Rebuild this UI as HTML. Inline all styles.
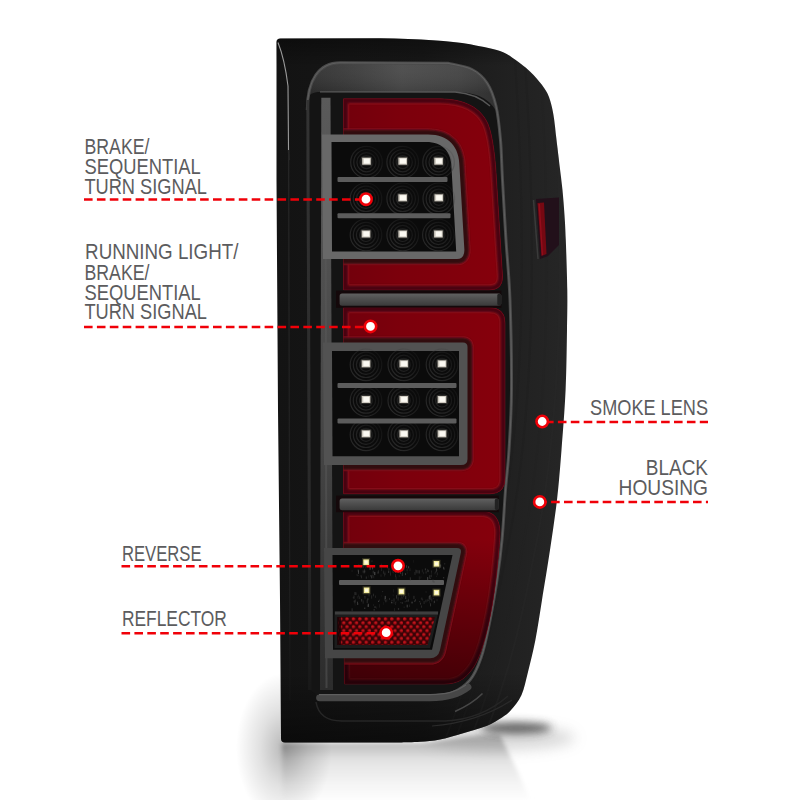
<!DOCTYPE html>
<html><head><meta charset="utf-8"><style>
html,body{margin:0;padding:0;background:#fff;width:800px;height:800px;overflow:hidden}
svg{display:block}
text{font-family:"Liberation Sans",sans-serif;font-size:22px;fill:#5c5c5e}
</style></head><body>
<svg width="800" height="800" viewBox="0 0 800 800">
<defs>
  <filter id="blur8" filterUnits="userSpaceOnUse" x="0" y="0" width="800" height="800"><feGaussianBlur stdDeviation="7"/></filter>
  <filter id="blur4" filterUnits="userSpaceOnUse" x="0" y="0" width="800" height="800"><feGaussianBlur stdDeviation="4"/></filter>
  <filter id="blur2" filterUnits="userSpaceOnUse" x="0" y="0" width="800" height="800"><feGaussianBlur stdDeviation="2.2"/></filter>
  <filter id="blur1" x="-20%" y="-20%" width="140%" height="140%"><feGaussianBlur stdDeviation="0.8"/></filter>
  <linearGradient id="house" x1="276" y1="0" x2="568" y2="0" gradientUnits="userSpaceOnUse">
    <stop offset="0" stop-color="#131313"/>
    <stop offset="0.5" stop-color="#171717"/>
    <stop offset="0.78" stop-color="#202020"/>
    <stop offset="1" stop-color="#262626"/>
  </linearGradient>
  <linearGradient id="slab" x1="308" y1="0" x2="495" y2="0" gradientUnits="userSpaceOnUse">
    <stop offset="0" stop-color="#303030"/>
    <stop offset="0.25" stop-color="#3c3c3c"/>
    <stop offset="0.5" stop-color="#4a4a4a"/>
    <stop offset="0.8" stop-color="#444"/>
    <stop offset="1" stop-color="#383838"/>
  </linearGradient>
  <linearGradient id="slabv" x1="0" y1="62" x2="0" y2="93" gradientUnits="userSpaceOnUse">
    <stop offset="0" stop-color="#fff" stop-opacity="0.04"/>
    <stop offset="1" stop-color="#000" stop-opacity="0.12"/>
  </linearGradient>
  <linearGradient id="redH" x1="343" y1="0" x2="505" y2="0" gradientUnits="userSpaceOnUse">
    <stop offset="0" stop-color="#72000c"/>
    <stop offset="0.35" stop-color="#7c000c"/>
    <stop offset="1" stop-color="#86000c"/>
  </linearGradient>
  <linearGradient id="refl" x1="0" y1="742" x2="0" y2="800" gradientUnits="userSpaceOnUse">
    <stop offset="0" stop-color="#b8b8b8"/>
    <stop offset="0.3" stop-color="#e2e2e2"/>
    <stop offset="0.7" stop-color="#f4f4f4"/>
    <stop offset="1" stop-color="#fdfdfd"/>
  </linearGradient>
  <pattern id="hex" x="339" y="617" width="6.4" height="7.8" patternUnits="userSpaceOnUse">
    <rect width="6.4" height="7.8" fill="#380306"/>
    <ellipse cx="1.6" cy="1.95" rx="1.9" ry="1.6" fill="#a80c14"/>
    <ellipse cx="4.8" cy="5.85" rx="1.9" ry="1.6" fill="#a80c14"/>
    <ellipse cx="1.6" cy="1.6" rx="1" ry="0.8" fill="#c81820"/>
    <ellipse cx="4.8" cy="5.5" rx="1" ry="0.8" fill="#c81820"/>
  </pattern>
  <linearGradient id="barg" x1="0" y1="98" x2="0" y2="690" gradientUnits="userSpaceOnUse">
    <stop offset="0" stop-color="#5a5a5a"/>
    <stop offset="0.6" stop-color="#444"/>
    <stop offset="1" stop-color="#2c2c2c"/>
  </linearGradient>
  <linearGradient id="botdark" x1="0" y1="540" x2="0" y2="690" gradientUnits="userSpaceOnUse">
    <stop offset="0" stop-color="#000" stop-opacity="0"/>
    <stop offset="1" stop-color="#000" stop-opacity="0.5"/>
  </linearGradient>
  <linearGradient id="ringgrad" x1="0" y1="1" x2="1" y2="0">
    <stop offset="0.1" stop-color="#fff"/>
    <stop offset="0.5" stop-color="#888"/>
    <stop offset="0.9" stop-color="#111"/>
  </linearGradient>
  <mask id="ringmask" maskContentUnits="objectBoundingBox" x="-0.2" y="-0.2" width="1.4" height="1.4"><rect x="-0.2" y="-0.2" width="1.4" height="1.4" fill="url(#ringgrad)"/></mask>
  <linearGradient id="housebot" x1="0" y1="38" x2="0" y2="743" gradientUnits="userSpaceOnUse">
    <stop offset="0" stop-color="#000" stop-opacity="0.35"/>
    <stop offset="0.04" stop-color="#000" stop-opacity="0"/>
    <stop offset="0.9" stop-color="#000" stop-opacity="0"/>
    <stop offset="1" stop-color="#000" stop-opacity="0.45"/>
  </linearGradient>
  <radialGradient id="leftsh">
    <stop offset="0" stop-color="#000" stop-opacity="0.28"/>
    <stop offset="0.5" stop-color="#000" stop-opacity="0.12"/>
    <stop offset="1" stop-color="#000" stop-opacity="0"/>
  </radialGradient>
  <linearGradient id="linefade" x1="0" y1="150" x2="0" y2="700" gradientUnits="userSpaceOnUse">
    <stop offset="0" stop-color="#262626"/>
    <stop offset="0.8" stop-color="#1e1e1e"/>
    <stop offset="1" stop-color="#141414"/>
  </linearGradient>
  <linearGradient id="linefade2" x1="0" y1="100" x2="0" y2="690" gradientUnits="userSpaceOnUse">
    <stop offset="0" stop-color="#333"/>
    <stop offset="0.75" stop-color="#282828"/>
    <stop offset="1" stop-color="#181818"/>
  </linearGradient>
  <clipPath id="clipRight"><rect x="336" y="0" width="300" height="800"/></clipPath>
  <clipPath id="clipHouse"><path id="hp" d="M 276.5,42 Q 276.5,38.5 280.5,38.5 L 380,38.3 C 420,39 450,41 470,44.2 C 475.00,45.33 492.50,48.45 500.00,51.00 C 507.50,53.55 510.00,56.08 515.00,59.50 C 520.00,62.92 525.50,67.25 530.00,71.50 C 534.50,75.75 538.83,80.75 542.00,85.00 C 545.17,89.25 547.08,92.00 549.00,97.00 C 550.92,102.00 552.25,107.83 553.50,115.00 C 554.75,122.17 555.50,131.67 556.50,140.00 C 557.50,148.33 558.50,156.67 559.50,165.00 C 560.50,173.33 561.67,181.67 562.50,190.00 C 563.33,198.33 563.95,206.67 564.50,215.00 C 565.05,223.33 565.33,227.50 565.80,240.00 C 566.27,252.50 567.10,275.00 567.30,290.00 C 567.50,305.00 567.28,313.33 567.00,330.00 C 566.72,346.67 566.52,370.00 565.60,390.00 C 564.68,410.00 562.93,431.67 561.50,450.00 C 560.07,468.33 558.92,483.33 557.00,500.00 C 555.08,516.67 552.50,533.33 550.00,550.00 C 547.50,566.67 544.43,585.00 542.00,600.00 C 539.57,615.00 537.73,628.00 535.40,640.00 C 533.07,652.00 530.32,662.83 528.00,672.00 C 525.68,681.17 524.33,688.67 521.50,695.00 C 518.67,701.33 514.25,706.25 511.00,710.00 C 507.75,713.75 506.08,714.83 502.00,717.50 C 497.92,720.17 492.83,723.42 486.50,726.00 C 480.17,728.58 471.75,730.75 464.00,733.00 C 456.25,735.25 447.33,738.03 440.00,739.50 C 432.67,740.97 426.67,741.30 420.00,741.80 C 413.33,742.30 403.33,742.38 400.00,742.50 L 285,742.5 Q 281,742.5 281,738.5 L 280,600 L 278,410 L 276.5,180 Z"/></clipPath>
</defs>
<path d="M 282,743 L 420,742.5 C 450,741 480,732 500,735 C 512,760 522,780 530,800 L 282,800 Z" fill="url(#refl)" filter="url(#blur2)"/>
<ellipse cx="284" cy="748" rx="48" ry="75" fill="url(#leftsh)"/>
<ellipse cx="500" cy="738" rx="75" ry="12" fill="#909090" opacity="0.35" filter="url(#blur8)"/>
<ellipse cx="516" cy="728" rx="36" ry="5.5" fill="#3a3a3a" opacity="0.8" filter="url(#blur4)"/>
<path d="M 276.5,42 Q 276.5,38.5 280.5,38.5 L 380,38.3 C 420,39 450,41 470,44.2 C 475.00,45.33 492.50,48.45 500.00,51.00 C 507.50,53.55 510.00,56.08 515.00,59.50 C 520.00,62.92 525.50,67.25 530.00,71.50 C 534.50,75.75 538.83,80.75 542.00,85.00 C 545.17,89.25 547.08,92.00 549.00,97.00 C 550.92,102.00 552.25,107.83 553.50,115.00 C 554.75,122.17 555.50,131.67 556.50,140.00 C 557.50,148.33 558.50,156.67 559.50,165.00 C 560.50,173.33 561.67,181.67 562.50,190.00 C 563.33,198.33 563.95,206.67 564.50,215.00 C 565.05,223.33 565.33,227.50 565.80,240.00 C 566.27,252.50 567.10,275.00 567.30,290.00 C 567.50,305.00 567.28,313.33 567.00,330.00 C 566.72,346.67 566.52,370.00 565.60,390.00 C 564.68,410.00 562.93,431.67 561.50,450.00 C 560.07,468.33 558.92,483.33 557.00,500.00 C 555.08,516.67 552.50,533.33 550.00,550.00 C 547.50,566.67 544.43,585.00 542.00,600.00 C 539.57,615.00 537.73,628.00 535.40,640.00 C 533.07,652.00 530.32,662.83 528.00,672.00 C 525.68,681.17 524.33,688.67 521.50,695.00 C 518.67,701.33 514.25,706.25 511.00,710.00 C 507.75,713.75 506.08,714.83 502.00,717.50 C 497.92,720.17 492.83,723.42 486.50,726.00 C 480.17,728.58 471.75,730.75 464.00,733.00 C 456.25,735.25 447.33,738.03 440.00,739.50 C 432.67,740.97 426.67,741.30 420.00,741.80 C 413.33,742.30 403.33,742.38 400.00,742.50 L 285,742.5 Q 281,742.5 281,738.5 L 280,600 L 278,410 L 276.5,180 Z" fill="url(#house)"/>
<path d="M 276.5,42 Q 276.5,38.5 280.5,38.5 L 380,38.3 C 420,39 450,41 470,44.2 C 475.00,45.33 492.50,48.45 500.00,51.00 C 507.50,53.55 510.00,56.08 515.00,59.50 C 520.00,62.92 525.50,67.25 530.00,71.50 C 534.50,75.75 538.83,80.75 542.00,85.00 C 545.17,89.25 547.08,92.00 549.00,97.00 C 550.92,102.00 552.25,107.83 553.50,115.00 C 554.75,122.17 555.50,131.67 556.50,140.00 C 557.50,148.33 558.50,156.67 559.50,165.00 C 560.50,173.33 561.67,181.67 562.50,190.00 C 563.33,198.33 563.95,206.67 564.50,215.00 C 565.05,223.33 565.33,227.50 565.80,240.00 C 566.27,252.50 567.10,275.00 567.30,290.00 C 567.50,305.00 567.28,313.33 567.00,330.00 C 566.72,346.67 566.52,370.00 565.60,390.00 C 564.68,410.00 562.93,431.67 561.50,450.00 C 560.07,468.33 558.92,483.33 557.00,500.00 C 555.08,516.67 552.50,533.33 550.00,550.00 C 547.50,566.67 544.43,585.00 542.00,600.00 C 539.57,615.00 537.73,628.00 535.40,640.00 C 533.07,652.00 530.32,662.83 528.00,672.00 C 525.68,681.17 524.33,688.67 521.50,695.00 C 518.67,701.33 514.25,706.25 511.00,710.00 C 507.75,713.75 506.08,714.83 502.00,717.50 C 497.92,720.17 492.83,723.42 486.50,726.00 C 480.17,728.58 471.75,730.75 464.00,733.00 C 456.25,735.25 447.33,738.03 440.00,739.50 C 432.67,740.97 426.67,741.30 420.00,741.80 C 413.33,742.30 403.33,742.38 400.00,742.50 L 285,742.5 Q 281,742.5 281,738.5 L 280,600 L 278,410 L 276.5,180 Z" fill="url(#housebot)"/>
<g clip-path="url(#clipHouse)" fill="none">
<path d="M 515,60 C 527,250 525,420 495,560 C 480,640 465,690 445,740" stroke="#1e1e1e" stroke-width="2" opacity="0.35"/>
<path d="M 525,60 C 537,250 535,420 505,560 C 490,640 475,690 455,740" stroke="#1c1c1c" stroke-width="2" opacity="0.35"/>
<path d="M 540,60 C 552,250 550,420 520,560 C 505,640 490,690 470,740" stroke="#222" stroke-width="2" opacity="0.35"/>
<path d="M 553,60 C 565,250 563,420 533,560 C 518,640 503,690 483,740" stroke="#2a2a2a" stroke-width="2" opacity="0.3"/>
</g>
<path d="M 278,42.5 C 281,50 285,62 288,86 L 288.6,160" fill="none" stroke="#9a9a9a" stroke-width="1.1"/>
<path d="M 288.6,150 L 290,700" fill="none" stroke="url(#linefade)" stroke-width="1.2"/>
<path d="M 307.5,150 L 309.5,690" fill="none" stroke="#1e1e1e" stroke-width="2"/>
<path d="M 309.5,690 L 307.3,110 C 307.3,80 319,62.8 340,62.8 L 448,63.3 C 452.00,64.33 465.50,66.22 472.00,69.50 C 478.50,72.78 483.00,76.92 487.00,83.00 C 491.00,89.08 493.75,96.50 496.00,106.00 C 498.25,115.50 499.42,127.67 500.50,140.00 C 501.58,152.33 501.58,163.33 502.50,180.00 C 503.42,196.67 504.75,220.00 506.00,240.00 C 507.25,260.00 509.08,275.00 510.00,300.00 C 510.92,325.00 511.67,365.00 511.50,390.00 C 511.33,415.00 510.00,433.33 509.00,450.00 C 508.00,466.67 506.67,475.00 505.50,490.00 C 504.33,505.00 503.42,525.00 502.00,540.00 C 500.58,555.00 499.25,565.33 497.00,580.00 C 494.75,594.67 491.17,615.00 488.50,628.00 C 485.83,641.00 484.08,649.33 481.00,658.00 C 477.92,666.67 474.83,674.17 470.00,680.00 C 465.17,685.83 458.67,690.08 452.00,693.00 C 445.33,695.92 433.67,696.75 430.00,697.50 L 320,697.5 Q 315.5,697.5 315.5,694 L 310,690 Z" fill="#141414"/>
<path d="M 309,96 C 310,76 321,64 340,63.5 L 448,64 C 468,64.5 481,71 488,84 C 492,92 494,100 495.5,110 C 490,100 478,92 455,92 L 320,92 C 314,92 310,94 309,96 Z" fill="url(#slab)"/>
<path d="M 309,96 C 310,76 321,64 340,63.5 L 448,64 C 468,64.5 481,71 488,84 C 492,92 494,100 495.5,110 C 490,100 478,92 455,92 L 320,92 C 314,92 310,94 309,96 Z" fill="url(#slabv)"/>
<path d="M 307.3,110 C 307.3,80 319,62.8 340,62.8 L 448,63.3 C 452.00,64.33 465.50,66.22 472.00,69.50 C 478.50,72.78 483.00,76.92 487.00,83.00 C 491.00,89.08 493.75,96.50 496.00,106.00 C 498.25,115.50 499.42,127.67 500.50,140.00 C 501.58,152.33 501.58,163.33 502.50,180.00 C 503.42,196.67 504.75,220.00 506.00,240.00 C 507.25,260.00 509.08,275.00 510.00,300.00 C 510.92,325.00 511.67,365.00 511.50,390.00 C 511.33,415.00 510.00,433.33 509.00,450.00 C 508.00,466.67 506.67,475.00 505.50,490.00 C 504.33,505.00 503.42,525.00 502.00,540.00 C 500.58,555.00 499.25,565.33 497.00,580.00 C 494.75,594.67 491.17,615.00 488.50,628.00 C 485.83,641.00 484.08,649.33 481.00,658.00 C 477.92,666.67 474.83,674.17 470.00,680.00 C 465.17,685.83 458.67,690.08 452.00,693.00 C 445.33,695.92 433.67,696.75 430.00,697.50 L 320,697.5" fill="none" stroke="#4a4a4a" stroke-width="3"/>
<path d="M 307.3,110 C 307.3,80 319,62.8 340,62.8 L 448,63.3 C 452.00,64.33 465.50,66.22 472.00,69.50 C 478.50,72.78 483.00,76.92 487.00,83.00 C 491.00,89.08 493.75,96.50 496.00,106.00 C 498.25,115.50 499.42,127.67 500.50,140.00 C 501.58,152.33 501.58,163.33 502.50,180.00 C 503.42,196.67 504.75,220.00 506.00,240.00 C 507.25,260.00 509.08,275.00 510.00,300.00 C 510.92,325.00 511.67,365.00 511.50,390.00 C 511.33,415.00 510.00,433.33 509.00,450.00 C 508.00,466.67 506.67,475.00 505.50,490.00 C 504.33,505.00 503.42,525.00 502.00,540.00 C 500.58,555.00 499.25,565.33 497.00,580.00 C 494.75,594.67 491.17,615.00 488.50,628.00 C 485.83,641.00 484.08,649.33 481.00,658.00 C 477.92,666.67 474.83,674.17 470.00,680.00 C 465.17,685.83 458.67,690.08 452.00,693.00 C 445.33,695.92 433.67,696.75 430.00,697.50 L 320,697.5" fill="none" stroke="#6a6a6a" stroke-width="1" opacity="0.7"/>
<path d="M 307.8,100 L 310,690" stroke="url(#linefade2)" stroke-width="3"/>
<path d="M 319.5,697.8 L 430,697.8 C 446,697.6 458,695 468,687" fill="none" stroke="#474747" stroke-width="6.8" stroke-linecap="round"/>
<path d="M 319,694.6 L 430,694.6 C 446,694.4 456,692 466,685" fill="none" stroke="#5e5e5e" stroke-width="1.2"/>
<path d="M 395,63 L 432,63" stroke="#d0d0d0" stroke-width="1.4" opacity="0.7" filter="url(#blur1)"/>
<path d="M 320,91.8 L 455,92 C 470,93 480,97 490,106" fill="none" stroke="#575757" stroke-width="1.3"/>
<path d="M 321.3,97.8 L 330.5,97.8 L 333,690 L 320,690 Z" fill="url(#barg)"/>
<path d="M 325.5,98 L 326.5,688" stroke="#5a5a5a" stroke-width="2" opacity="0.5"/>
<clipPath id="rc0"><path d="M 343.5,98.8 L 440,98.8 C 465,99 481,108 488,124 C 493,136 495.5,160 496.5,180 L 502.5,276 Q 503,290 489,290 L 343.5,290 Z"/></clipPath>
<path d="M 343.5,98.8 L 440,98.8 C 465,99 481,108 488,124 C 493,136 495.5,160 496.5,180 L 502.5,276 Q 503,290 489,290 L 343.5,290 Z" fill="url(#redH)"/>
<g clip-path="url(#rc0)"><path d="M 343.5,98.8 L 440,98.8 C 465,99 481,108 488,124 C 493,136 495.5,160 496.5,180 L 502.5,276 Q 503,290 489,290 L 343.5,290 Z" fill="none" stroke="#a81828" stroke-width="11.5" opacity="0.75"/><path d="M 343.5,98.8 L 440,98.8 C 465,99 481,108 488,124 C 493,136 495.5,160 496.5,180 L 502.5,276 Q 503,290 489,290 L 343.5,290 Z" fill="none" stroke="#3a0008" stroke-width="9" opacity="0.85" filter="url(#blur1)"/></g>
<path d="M 343.5,98.8 L 440,98.8 C 465,99 481,108 488,124 C 493,136 495.5,160 496.5,180 L 502.5,276 Q 503,290 489,290 L 343.5,290 Z" fill="none" stroke="#7a1020" stroke-width="1" opacity="0.5"/>
<clipPath id="rc1"><path d="M 343.5,307.5 L 489,307.5 Q 505,307.5 505,323 L 505,478 Q 505,493.8 490,493.8 L 343.5,493.8 Z"/></clipPath>
<path d="M 343.5,307.5 L 489,307.5 Q 505,307.5 505,323 L 505,478 Q 505,493.8 490,493.8 L 343.5,493.8 Z" fill="url(#redH)"/>
<g clip-path="url(#rc1)"><path d="M 343.5,307.5 L 489,307.5 Q 505,307.5 505,323 L 505,478 Q 505,493.8 490,493.8 L 343.5,493.8 Z" fill="none" stroke="#a81828" stroke-width="11.5" opacity="0.75"/><path d="M 343.5,307.5 L 489,307.5 Q 505,307.5 505,323 L 505,478 Q 505,493.8 490,493.8 L 343.5,493.8 Z" fill="none" stroke="#3a0008" stroke-width="9" opacity="0.85" filter="url(#blur1)"/></g>
<path d="M 343.5,307.5 L 489,307.5 Q 505,307.5 505,323 L 505,478 Q 505,493.8 490,493.8 L 343.5,493.8 Z" fill="none" stroke="#7a1020" stroke-width="1" opacity="0.5"/>
<clipPath id="rc2"><path d="M 343.5,511.3 L 482,511.3 C 494,511.3 500,519 500,533 C 499.5,545 498,560 496.5,575 C 493,605 489,625 483.7,643 C 480,655 477,662 473,668 C 465,679 458,684 444,684 L 344.5,684 Z"/></clipPath>
<path d="M 343.5,511.3 L 482,511.3 C 494,511.3 500,519 500,533 C 499.5,545 498,560 496.5,575 C 493,605 489,625 483.7,643 C 480,655 477,662 473,668 C 465,679 458,684 444,684 L 344.5,684 Z" fill="url(#redH)"/>
<g clip-path="url(#rc2)"><path d="M 343.5,511.3 L 482,511.3 C 494,511.3 500,519 500,533 C 499.5,545 498,560 496.5,575 C 493,605 489,625 483.7,643 C 480,655 477,662 473,668 C 465,679 458,684 444,684 L 344.5,684 Z" fill="none" stroke="#a81828" stroke-width="11.5" opacity="0.75"/><path d="M 343.5,511.3 L 482,511.3 C 494,511.3 500,519 500,533 C 499.5,545 498,560 496.5,575 C 493,605 489,625 483.7,643 C 480,655 477,662 473,668 C 465,679 458,684 444,684 L 344.5,684 Z" fill="none" stroke="#3a0008" stroke-width="9" opacity="0.85" filter="url(#blur1)"/></g>
<path d="M 343.5,511.3 L 482,511.3 C 494,511.3 500,519 500,533 C 499.5,545 498,560 496.5,575 C 493,605 489,625 483.7,643 C 480,655 477,662 473,668 C 465,679 458,684 444,684 L 344.5,684 Z" fill="none" stroke="#7a1020" stroke-width="1" opacity="0.5"/>
<path d="M 343.5,511.3 L 482,511.3 C 494,511.3 500,519 500,533 C 499.5,545 498,560 496.5,575 C 493,605 489,625 483.7,643 C 480,655 477,662 473,668 C 465,679 458,684 444,684 L 344.5,684 Z" fill="url(#botdark)"/>
<g clip-path="url(#rc0)"><path d="M 322,134.5 L 428,134.5 C 449,134.5 459.5,147 459.5,167 L 464.4,250 Q 464.4,259 457,259 L 323,259 Z" fill="none" stroke="#a81828" stroke-width="12.5" opacity="0.75"/><path d="M 322,134.5 L 428,134.5 C 449,134.5 459.5,147 459.5,167 L 464.4,250 Q 464.4,259 457,259 L 323,259 Z" fill="none" stroke="#260810" stroke-width="10" opacity="0.9" filter="url(#blur1)"/></g>
<path d="M 322,134.5 L 428,134.5 C 449,134.5 459.5,147 459.5,167 L 464.4,250 Q 464.4,259 457,259 L 323,259 Z" fill="#686868"/>
<path d="M 331.5,142 L 426,142 C 443,142 451.5,152 451.5,168 L 456.2,251.5 L 332,251.5 Z" fill="#0b0b0b"/>
<g clip-path="url(#rc1)"><path d="M 323,342.5 L 463,342.5 Q 467.5,342.5 467.5,347 L 467.5,459 Q 467.5,465 461,465 L 324,465 Z" fill="none" stroke="#a81828" stroke-width="12.5" opacity="0.75"/><path d="M 323,342.5 L 463,342.5 Q 467.5,342.5 467.5,347 L 467.5,459 Q 467.5,465 461,465 L 324,465 Z" fill="none" stroke="#260810" stroke-width="10" opacity="0.9" filter="url(#blur1)"/></g>
<path d="M 323,342.5 L 463,342.5 Q 467.5,342.5 467.5,347 L 467.5,459 Q 467.5,465 461,465 L 324,465 Z" fill="#525252"/>
<path d="M 332,351 L 459,351 L 459,456.3 L 332.5,456.3 Z" fill="#0b0b0b"/>
<g clip-path="url(#rc2)"><path d="M 324,548 L 457,548 Q 461.5,548 461,552 L 440,650 Q 438,658.3 430,658.3 L 325,658.3 Z" fill="none" stroke="#a81828" stroke-width="12.5" opacity="0.75"/><path d="M 324,548 L 457,548 Q 461.5,548 461,552 L 440,650 Q 438,658.3 430,658.3 L 325,658.3 Z" fill="none" stroke="#260810" stroke-width="10" opacity="0.9" filter="url(#blur1)"/></g>
<path d="M 324,548 L 457,548 Q 461.5,548 461,552 L 440,650 Q 438,658.3 430,658.3 L 325,658.3 Z" fill="#464646"/>
<path d="M 332.5,555 L 452.5,555 L 432,649.7 L 333,649.7 Z" fill="#0b0b0b"/>
<g fill="none" stroke="#383838" stroke-width="1.2" opacity="0.8" mask="url(#ringmask)"><circle cx="366.5" cy="162.2" r="6.5"/><circle cx="366.5" cy="162.2" r="9.6"/><circle cx="366.5" cy="162.2" r="12.7"/><circle cx="366.5" cy="162.2" r="15.8"/></g>
<g fill="none" stroke="#383838" stroke-width="1.2" opacity="0.8" mask="url(#ringmask)"><circle cx="402.7" cy="162.2" r="6.5"/><circle cx="402.7" cy="162.2" r="9.6"/><circle cx="402.7" cy="162.2" r="12.7"/><circle cx="402.7" cy="162.2" r="15.8"/></g>
<g fill="none" stroke="#383838" stroke-width="1.2" opacity="0.8" mask="url(#ringmask)"><circle cx="438.6" cy="162.2" r="6.5"/><circle cx="438.6" cy="162.2" r="9.6"/><circle cx="438.6" cy="162.2" r="12.7"/><circle cx="438.6" cy="162.2" r="15.8"/></g>
<g fill="none" stroke="#383838" stroke-width="1.2" opacity="0.8" mask="url(#ringmask)"><circle cx="366" cy="198.8" r="6.5"/><circle cx="366" cy="198.8" r="9.6"/><circle cx="366" cy="198.8" r="12.7"/><circle cx="366" cy="198.8" r="15.8"/></g>
<g fill="none" stroke="#383838" stroke-width="1.2" opacity="0.8" mask="url(#ringmask)"><circle cx="402.7" cy="198.8" r="6.5"/><circle cx="402.7" cy="198.8" r="9.6"/><circle cx="402.7" cy="198.8" r="12.7"/><circle cx="402.7" cy="198.8" r="15.8"/></g>
<g fill="none" stroke="#383838" stroke-width="1.2" opacity="0.8" mask="url(#ringmask)"><circle cx="438.8" cy="198.8" r="6.5"/><circle cx="438.8" cy="198.8" r="9.6"/><circle cx="438.8" cy="198.8" r="12.7"/><circle cx="438.8" cy="198.8" r="15.8"/></g>
<g fill="none" stroke="#383838" stroke-width="1.2" opacity="0.8" mask="url(#ringmask)"><circle cx="366" cy="235" r="6.5"/><circle cx="366" cy="235" r="9.6"/><circle cx="366" cy="235" r="12.7"/><circle cx="366" cy="235" r="15.8"/></g>
<g fill="none" stroke="#383838" stroke-width="1.2" opacity="0.8" mask="url(#ringmask)"><circle cx="402.7" cy="235" r="6.5"/><circle cx="402.7" cy="235" r="9.6"/><circle cx="402.7" cy="235" r="12.7"/><circle cx="402.7" cy="235" r="15.8"/></g>
<g fill="none" stroke="#383838" stroke-width="1.2" opacity="0.8" mask="url(#ringmask)"><circle cx="438.4" cy="235" r="6.5"/><circle cx="438.4" cy="235" r="9.6"/><circle cx="438.4" cy="235" r="12.7"/><circle cx="438.4" cy="235" r="15.8"/></g>
<g fill="none" stroke="#383838" stroke-width="1.2" opacity="0.8" mask="url(#ringmask)"><circle cx="366" cy="364.8" r="6.5"/><circle cx="366" cy="364.8" r="9.6"/><circle cx="366" cy="364.8" r="12.7"/><circle cx="366" cy="364.8" r="15.8"/></g>
<g fill="none" stroke="#383838" stroke-width="1.2" opacity="0.8" mask="url(#ringmask)"><circle cx="403.8" cy="364.8" r="6.5"/><circle cx="403.8" cy="364.8" r="9.6"/><circle cx="403.8" cy="364.8" r="12.7"/><circle cx="403.8" cy="364.8" r="15.8"/></g>
<g fill="none" stroke="#383838" stroke-width="1.2" opacity="0.8" mask="url(#ringmask)"><circle cx="442" cy="364.8" r="6.5"/><circle cx="442" cy="364.8" r="9.6"/><circle cx="442" cy="364.8" r="12.7"/><circle cx="442" cy="364.8" r="15.8"/></g>
<g fill="none" stroke="#383838" stroke-width="1.2" opacity="0.8" mask="url(#ringmask)"><circle cx="366" cy="400.5" r="6.5"/><circle cx="366" cy="400.5" r="9.6"/><circle cx="366" cy="400.5" r="12.7"/><circle cx="366" cy="400.5" r="15.8"/></g>
<g fill="none" stroke="#383838" stroke-width="1.2" opacity="0.8" mask="url(#ringmask)"><circle cx="403.8" cy="400.5" r="6.5"/><circle cx="403.8" cy="400.5" r="9.6"/><circle cx="403.8" cy="400.5" r="12.7"/><circle cx="403.8" cy="400.5" r="15.8"/></g>
<g fill="none" stroke="#383838" stroke-width="1.2" opacity="0.8" mask="url(#ringmask)"><circle cx="442" cy="400.5" r="6.5"/><circle cx="442" cy="400.5" r="9.6"/><circle cx="442" cy="400.5" r="12.7"/><circle cx="442" cy="400.5" r="15.8"/></g>
<g fill="none" stroke="#383838" stroke-width="1.2" opacity="0.8" mask="url(#ringmask)"><circle cx="366" cy="434.8" r="6.5"/><circle cx="366" cy="434.8" r="9.6"/><circle cx="366" cy="434.8" r="12.7"/><circle cx="366" cy="434.8" r="15.8"/></g>
<g fill="none" stroke="#383838" stroke-width="1.2" opacity="0.8" mask="url(#ringmask)"><circle cx="403.8" cy="434.8" r="6.5"/><circle cx="403.8" cy="434.8" r="9.6"/><circle cx="403.8" cy="434.8" r="12.7"/><circle cx="403.8" cy="434.8" r="15.8"/></g>
<g fill="none" stroke="#383838" stroke-width="1.2" opacity="0.8" mask="url(#ringmask)"><circle cx="442" cy="434.8" r="6.5"/><circle cx="442" cy="434.8" r="9.6"/><circle cx="442" cy="434.8" r="12.7"/><circle cx="442" cy="434.8" r="15.8"/></g>
<g fill="#5c5c5c">
<rect x="337.5" y="177" width="110" height="5" rx="1"/>
<rect x="337.5" y="213.3" width="113" height="5" rx="1"/>
<rect x="337.5" y="383" width="119" height="5" rx="1"/>
<rect x="337.5" y="418.5" width="119" height="5" rx="1"/>
<rect x="339" y="580" width="105" height="5" rx="1"/>
</g>
<rect x="361.2" y="156.7" width="10.6" height="9.0" fill="#5a5854" opacity="0.45"/><rect x="362.2" y="157.7" width="8.6" height="7.0" fill="#cfcac0"/><rect x="363.8" y="158.6" width="6.0" height="5.0" fill="#fbf9f2"/>
<rect x="397.4" y="156.7" width="10.6" height="9.0" fill="#5a5854" opacity="0.45"/><rect x="398.4" y="157.7" width="8.6" height="7.0" fill="#cfcac0"/><rect x="400.0" y="158.6" width="6.0" height="5.0" fill="#fbf9f2"/>
<rect x="433.3" y="156.7" width="10.6" height="9.0" fill="#5a5854" opacity="0.45"/><rect x="434.3" y="157.7" width="8.6" height="7.0" fill="#cfcac0"/><rect x="435.9" y="158.6" width="6.0" height="5.0" fill="#fbf9f2"/>
<rect x="360.7" y="193.3" width="10.6" height="9.0" fill="#5a5854" opacity="0.45"/><rect x="361.7" y="194.3" width="8.6" height="7.0" fill="#cfcac0"/><rect x="363.3" y="195.2" width="6.0" height="5.0" fill="#fbf9f2"/>
<rect x="397.4" y="193.3" width="10.6" height="9.0" fill="#5a5854" opacity="0.45"/><rect x="398.4" y="194.3" width="8.6" height="7.0" fill="#cfcac0"/><rect x="400.0" y="195.2" width="6.0" height="5.0" fill="#fbf9f2"/>
<rect x="433.5" y="193.3" width="10.6" height="9.0" fill="#5a5854" opacity="0.45"/><rect x="434.5" y="194.3" width="8.6" height="7.0" fill="#cfcac0"/><rect x="436.1" y="195.2" width="6.0" height="5.0" fill="#fbf9f2"/>
<rect x="360.7" y="229.5" width="10.6" height="9.0" fill="#5a5854" opacity="0.45"/><rect x="361.7" y="230.5" width="8.6" height="7.0" fill="#cfcac0"/><rect x="363.3" y="231.4" width="6.0" height="5.0" fill="#fbf9f2"/>
<rect x="397.4" y="229.5" width="10.6" height="9.0" fill="#5a5854" opacity="0.45"/><rect x="398.4" y="230.5" width="8.6" height="7.0" fill="#cfcac0"/><rect x="400.0" y="231.4" width="6.0" height="5.0" fill="#fbf9f2"/>
<rect x="433.1" y="229.5" width="10.6" height="9.0" fill="#5a5854" opacity="0.45"/><rect x="434.1" y="230.5" width="8.6" height="7.0" fill="#cfcac0"/><rect x="435.7" y="231.4" width="6.0" height="5.0" fill="#fbf9f2"/>
<rect x="360.7" y="359.3" width="10.6" height="9.0" fill="#5a5854" opacity="0.45"/><rect x="361.7" y="360.3" width="8.6" height="7.0" fill="#cfcac0"/><rect x="363.3" y="361.2" width="6.0" height="5.0" fill="#fbf9f2"/>
<rect x="398.5" y="359.3" width="10.6" height="9.0" fill="#5a5854" opacity="0.45"/><rect x="399.5" y="360.3" width="8.6" height="7.0" fill="#cfcac0"/><rect x="401.1" y="361.2" width="6.0" height="5.0" fill="#fbf9f2"/>
<rect x="436.7" y="359.3" width="10.6" height="9.0" fill="#5a5854" opacity="0.45"/><rect x="437.7" y="360.3" width="8.6" height="7.0" fill="#cfcac0"/><rect x="439.3" y="361.2" width="6.0" height="5.0" fill="#fbf9f2"/>
<rect x="360.7" y="395.0" width="10.6" height="9.0" fill="#5a5854" opacity="0.45"/><rect x="361.7" y="396.0" width="8.6" height="7.0" fill="#cfcac0"/><rect x="363.3" y="396.9" width="6.0" height="5.0" fill="#fbf9f2"/>
<rect x="398.5" y="395.0" width="10.6" height="9.0" fill="#5a5854" opacity="0.45"/><rect x="399.5" y="396.0" width="8.6" height="7.0" fill="#cfcac0"/><rect x="401.1" y="396.9" width="6.0" height="5.0" fill="#fbf9f2"/>
<rect x="436.7" y="395.0" width="10.6" height="9.0" fill="#5a5854" opacity="0.45"/><rect x="437.7" y="396.0" width="8.6" height="7.0" fill="#cfcac0"/><rect x="439.3" y="396.9" width="6.0" height="5.0" fill="#fbf9f2"/>
<rect x="360.7" y="429.3" width="10.6" height="9.0" fill="#5a5854" opacity="0.45"/><rect x="361.7" y="430.3" width="8.6" height="7.0" fill="#cfcac0"/><rect x="363.3" y="431.2" width="6.0" height="5.0" fill="#fbf9f2"/>
<rect x="398.5" y="429.3" width="10.6" height="9.0" fill="#5a5854" opacity="0.45"/><rect x="399.5" y="430.3" width="8.6" height="7.0" fill="#cfcac0"/><rect x="401.1" y="431.2" width="6.0" height="5.0" fill="#fbf9f2"/>
<rect x="436.7" y="429.3" width="10.6" height="9.0" fill="#5a5854" opacity="0.45"/><rect x="437.7" y="430.3" width="8.6" height="7.0" fill="#cfcac0"/><rect x="439.3" y="431.2" width="6.0" height="5.0" fill="#fbf9f2"/>
<g><rect x="380.7" y="574.4" width="0.6" height="2.3" fill="rgb(63,63,63)" opacity="0.69"/><rect x="436.2" y="575.7" width="0.7" height="1.2" fill="rgb(66,66,66)" opacity="0.43"/><rect x="358.6" y="564.3" width="0.6" height="1.6" fill="rgb(80,80,80)" opacity="0.69"/><rect x="355.9" y="574.4" width="0.9" height="1.1" fill="rgb(54,54,54)" opacity="0.42"/><rect x="431.4" y="570.5" width="0.6" height="1.8" fill="rgb(83,83,83)" opacity="0.49"/><rect x="405.1" y="573.2" width="0.9" height="1.9" fill="rgb(75,75,75)" opacity="0.76"/><rect x="403.5" y="567.6" width="0.9" height="2.9" fill="rgb(69,69,69)" opacity="0.69"/><rect x="393.0" y="567.8" width="0.7" height="3.0" fill="rgb(84,84,84)" opacity="0.79"/><rect x="357.8" y="569.5" width="0.7" height="2.1" fill="rgb(78,78,78)" opacity="0.89"/><rect x="361.2" y="575.4" width="0.8" height="2.9" fill="rgb(49,49,49)" opacity="0.87"/><rect x="390.0" y="572.6" width="0.9" height="3.0" fill="rgb(60,60,60)" opacity="0.57"/><rect x="383.2" y="570.6" width="0.8" height="3.0" fill="rgb(44,44,44)" opacity="0.82"/><rect x="439.6" y="565.2" width="0.5" height="2.8" fill="rgb(81,81,81)" opacity="0.69"/><rect x="414.6" y="572.0" width="0.8" height="2.8" fill="rgb(82,82,82)" opacity="0.57"/><rect x="439.2" y="567.6" width="0.8" height="1.5" fill="rgb(58,58,58)" opacity="0.46"/><rect x="373.5" y="575.3" width="0.8" height="3.2" fill="rgb(45,45,45)" opacity="0.48"/><rect x="388.1" y="570.6" width="0.8" height="2.4" fill="rgb(85,85,85)" opacity="0.61"/><rect x="384.0" y="573.1" width="1.1" height="3.4" fill="rgb(49,49,49)" opacity="0.44"/><rect x="364.3" y="570.7" width="1.1" height="1.5" fill="rgb(58,58,58)" opacity="0.40"/><rect x="389.7" y="570.5" width="0.8" height="2.4" fill="rgb(48,48,48)" opacity="0.75"/><rect x="398.9" y="566.6" width="0.5" height="3.2" fill="rgb(83,83,83)" opacity="0.80"/><rect x="387.2" y="567.0" width="0.8" height="1.3" fill="rgb(80,80,80)" opacity="0.60"/><rect x="368.1" y="575.3" width="0.6" height="2.5" fill="rgb(46,46,46)" opacity="0.40"/><rect x="364.3" y="570.6" width="0.6" height="1.9" fill="rgb(41,41,41)" opacity="0.44"/><rect x="369.7" y="567.0" width="1.2" height="2.5" fill="rgb(70,70,70)" opacity="0.46"/><rect x="430.5" y="575.0" width="1.2" height="2.2" fill="rgb(70,70,70)" opacity="0.56"/><rect x="363.7" y="571.0" width="0.8" height="2.7" fill="rgb(73,73,73)" opacity="0.41"/><rect x="440.2" y="564.4" width="0.9" height="1.4" fill="rgb(74,74,74)" opacity="0.86"/><rect x="421.9" y="569.3" width="0.6" height="3.1" fill="rgb(73,73,73)" opacity="0.58"/><rect x="365.8" y="576.5" width="1.0" height="2.3" fill="rgb(72,72,72)" opacity="0.56"/><rect x="371.1" y="575.4" width="1.1" height="3.0" fill="rgb(65,65,65)" opacity="0.77"/><rect x="371.5" y="560.3" width="0.9" height="1.9" fill="rgb(41,41,41)" opacity="0.89"/><rect x="424.9" y="568.4" width="0.9" height="1.9" fill="rgb(62,62,62)" opacity="0.88"/><rect x="384.6" y="571.5" width="0.7" height="1.6" fill="rgb(52,52,52)" opacity="0.57"/><rect x="395.8" y="576.5" width="0.5" height="3.3" fill="rgb(62,62,62)" opacity="0.80"/><rect x="358.0" y="570.5" width="1.0" height="3.3" fill="rgb(85,85,85)" opacity="0.78"/><rect x="395.3" y="574.1" width="0.7" height="3.0" fill="rgb(65,65,65)" opacity="0.63"/><rect x="420.5" y="577.4" width="0.6" height="1.4" fill="rgb(48,48,48)" opacity="0.41"/><rect x="406.0" y="565.3" width="0.9" height="2.5" fill="rgb(70,70,70)" opacity="0.73"/><rect x="383.2" y="572.3" width="0.9" height="1.3" fill="rgb(40,40,40)" opacity="0.80"/><rect x="418.9" y="576.3" width="0.6" height="3.5" fill="rgb(52,52,52)" opacity="0.81"/><rect x="370.0" y="575.0" width="0.7" height="1.7" fill="rgb(55,55,55)" opacity="0.78"/><rect x="380.9" y="563.7" width="0.5" height="2.8" fill="rgb(69,69,69)" opacity="0.73"/><rect x="427.3" y="568.9" width="0.9" height="3.1" fill="rgb(72,72,72)" opacity="0.47"/><rect x="364.4" y="562.9" width="1.0" height="2.5" fill="rgb(49,49,49)" opacity="0.49"/><rect x="394.9" y="570.5" width="1.0" height="2.4" fill="rgb(60,60,60)" opacity="0.74"/><rect x="400.3" y="564.1" width="1.1" height="1.1" fill="rgb(52,52,52)" opacity="0.54"/><rect x="423.2" y="571.8" width="0.9" height="2.4" fill="rgb(44,44,44)" opacity="0.62"/><rect x="408.1" y="566.2" width="1.0" height="2.1" fill="rgb(74,74,74)" opacity="0.80"/><rect x="398.1" y="570.8" width="0.7" height="2.3" fill="rgb(56,56,56)" opacity="0.86"/><rect x="434.6" y="572.3" width="0.8" height="2.0" fill="rgb(60,60,60)" opacity="0.44"/><rect x="372.8" y="575.2" width="0.6" height="2.7" fill="rgb(47,47,47)" opacity="0.85"/><rect x="364.6" y="569.8" width="0.6" height="3.2" fill="rgb(69,69,69)" opacity="0.51"/><rect x="440.3" y="565.3" width="0.8" height="2.2" fill="rgb(82,82,82)" opacity="0.82"/><rect x="365.3" y="566.6" width="0.7" height="1.5" fill="rgb(60,60,60)" opacity="0.45"/><rect x="384.7" y="573.0" width="0.7" height="2.1" fill="rgb(85,85,85)" opacity="0.41"/><rect x="381.4" y="567.6" width="0.5" height="3.5" fill="rgb(54,54,54)" opacity="0.89"/><rect x="359.9" y="567.6" width="0.7" height="1.1" fill="rgb(51,51,51)" opacity="0.54"/><rect x="362.3" y="563.2" width="1.1" height="1.6" fill="rgb(49,49,49)" opacity="0.67"/><rect x="398.8" y="575.1" width="0.8" height="1.8" fill="rgb(57,57,57)" opacity="0.43"/><rect x="415.2" y="569.6" width="1.2" height="2.6" fill="rgb(56,56,56)" opacity="0.44"/><rect x="431.2" y="571.7" width="0.5" height="3.2" fill="rgb(69,69,69)" opacity="0.41"/><rect x="444.3" y="563.3" width="0.9" height="1.1" fill="rgb(85,85,85)" opacity="0.52"/><rect x="360.4" y="575.4" width="0.6" height="1.1" fill="rgb(52,52,52)" opacity="0.87"/><rect x="409.6" y="568.3" width="0.8" height="2.7" fill="rgb(57,57,57)" opacity="0.57"/><rect x="351.7" y="570.5" width="0.7" height="1.0" fill="rgb(72,72,72)" opacity="0.68"/><rect x="368.0" y="561.8" width="0.6" height="3.0" fill="rgb(67,67,67)" opacity="0.73"/><rect x="401.8" y="572.5" width="1.1" height="3.4" fill="rgb(59,59,59)" opacity="0.74"/><rect x="443.1" y="566.8" width="1.0" height="2.6" fill="rgb(65,65,65)" opacity="0.89"/><rect x="443.1" y="577.3" width="1.1" height="1.0" fill="rgb(80,80,80)" opacity="0.77"/><rect x="374.2" y="571.9" width="1.1" height="3.2" fill="rgb(82,82,82)" opacity="0.89"/><rect x="406.8" y="572.4" width="1.0" height="1.1" fill="rgb(51,51,51)" opacity="0.48"/><rect x="392.3" y="570.2" width="1.2" height="2.4" fill="rgb(55,55,55)" opacity="0.42"/><rect x="433.7" y="581.2" width="0.7" height="1.5" fill="rgb(61,61,61)" opacity="0.59"/><rect x="395.0" y="568.3" width="0.9" height="1.0" fill="rgb(56,56,56)" opacity="0.81"/><rect x="363.6" y="571.0" width="0.9" height="2.0" fill="rgb(59,59,59)" opacity="0.55"/><rect x="372.1" y="566.8" width="1.0" height="2.6" fill="rgb(85,85,85)" opacity="0.79"/><rect x="406.6" y="568.5" width="1.0" height="2.8" fill="rgb(71,71,71)" opacity="0.47"/><rect x="418.6" y="570.3" width="1.1" height="3.2" fill="rgb(80,80,80)" opacity="0.61"/><rect x="416.5" y="570.1" width="0.9" height="3.3" fill="rgb(72,72,72)" opacity="0.68"/><rect x="427.1" y="577.1" width="1.1" height="2.8" fill="rgb(84,84,84)" opacity="0.72"/><rect x="358.1" y="571.6" width="0.5" height="2.6" fill="rgb(46,46,46)" opacity="0.59"/><rect x="392.8" y="571.7" width="0.9" height="1.6" fill="rgb(56,56,56)" opacity="0.40"/><rect x="425.6" y="571.2" width="1.0" height="2.3" fill="rgb(74,74,74)" opacity="0.45"/><rect x="399.9" y="570.9" width="1.1" height="3.1" fill="rgb(55,55,55)" opacity="0.76"/><rect x="369.5" y="566.5" width="1.0" height="3.4" fill="rgb(71,71,71)" opacity="0.82"/><rect x="357.3" y="573.8" width="0.5" height="2.6" fill="rgb(52,52,52)" opacity="0.44"/><rect x="364.0" y="569.2" width="0.7" height="2.9" fill="rgb(59,59,59)" opacity="0.71"/><rect x="362.7" y="566.4" width="1.2" height="1.2" fill="rgb(53,53,53)" opacity="0.74"/><rect x="377.6" y="571.5" width="0.9" height="2.2" fill="rgb(69,69,69)" opacity="0.78"/><rect x="444.2" y="567.7" width="0.6" height="2.2" fill="rgb(58,58,58)" opacity="0.63"/><rect x="427.7" y="570.0" width="1.2" height="2.1" fill="rgb(57,57,57)" opacity="0.59"/><rect x="436.9" y="572.4" width="0.6" height="2.9" fill="rgb(56,56,56)" opacity="0.88"/><rect x="362.6" y="570.3" width="1.1" height="2.3" fill="rgb(47,47,47)" opacity="0.75"/><rect x="371.9" y="574.7" width="0.5" height="1.0" fill="rgb(71,71,71)" opacity="0.74"/><rect x="388.4" y="568.2" width="1.0" height="2.0" fill="rgb(64,64,64)" opacity="0.56"/><rect x="429.7" y="577.7" width="1.1" height="1.3" fill="rgb(52,52,52)" opacity="0.76"/><rect x="435.5" y="571.1" width="0.7" height="1.9" fill="rgb(65,65,65)" opacity="0.60"/><rect x="432.5" y="579.1" width="1.0" height="3.1" fill="rgb(57,57,57)" opacity="0.45"/><rect x="429.1" y="575.2" width="0.7" height="3.3" fill="rgb(55,55,55)" opacity="0.89"/><rect x="391.4" y="568.2" width="1.0" height="2.1" fill="rgb(41,41,41)" opacity="0.81"/><rect x="409.8" y="577.3" width="1.1" height="3.4" fill="rgb(75,75,75)" opacity="0.50"/><rect x="357.6" y="574.8" width="0.9" height="1.3" fill="rgb(58,58,58)" opacity="0.64"/><rect x="436.4" y="569.3" width="0.9" height="1.4" fill="rgb(66,66,66)" opacity="0.57"/><rect x="378.2" y="570.2" width="0.7" height="2.6" fill="rgb(59,59,59)" opacity="0.64"/><rect x="413.4" y="560.1" width="0.6" height="2.6" fill="rgb(44,44,44)" opacity="0.50"/><rect x="435.9" y="568.2" width="1.1" height="3.5" fill="rgb(68,68,68)" opacity="0.61"/><rect x="401.9" y="571.1" width="0.7" height="1.4" fill="rgb(75,75,75)" opacity="0.45"/><rect x="372.7" y="570.7" width="1.1" height="2.9" fill="rgb(66,66,66)" opacity="0.59"/><rect x="420.7" y="576.2" width="0.6" height="1.7" fill="rgb(43,43,43)" opacity="0.65"/><rect x="401.2" y="595.1" width="0.9" height="3.0" fill="rgb(53,53,53)" opacity="0.45"/><rect x="430.0" y="603.7" width="0.8" height="2.6" fill="rgb(67,67,67)" opacity="0.88"/><rect x="425.7" y="599.6" width="0.5" height="2.8" fill="rgb(70,70,70)" opacity="0.88"/><rect x="393.7" y="598.4" width="0.6" height="3.3" fill="rgb(73,73,73)" opacity="0.83"/><rect x="436.7" y="599.0" width="0.6" height="2.3" fill="rgb(83,83,83)" opacity="0.45"/><rect x="423.6" y="600.9" width="1.0" height="3.1" fill="rgb(69,69,69)" opacity="0.44"/><rect x="419.3" y="601.1" width="0.9" height="1.1" fill="rgb(85,85,85)" opacity="0.55"/><rect x="361.4" y="599.0" width="0.7" height="2.6" fill="rgb(84,84,84)" opacity="0.78"/><rect x="358.9" y="596.0" width="0.6" height="1.7" fill="rgb(78,78,78)" opacity="0.40"/><rect x="397.9" y="608.1" width="1.2" height="1.7" fill="rgb(60,60,60)" opacity="0.72"/><rect x="428.8" y="596.1" width="0.7" height="3.4" fill="rgb(85,85,85)" opacity="0.72"/><rect x="354.9" y="599.5" width="0.6" height="3.2" fill="rgb(81,81,81)" opacity="0.61"/><rect x="372.9" y="594.5" width="0.7" height="1.1" fill="rgb(61,61,61)" opacity="0.76"/><rect x="382.3" y="591.1" width="0.8" height="1.0" fill="rgb(58,58,58)" opacity="0.77"/><rect x="395.0" y="601.9" width="0.7" height="3.1" fill="rgb(54,54,54)" opacity="0.63"/><rect x="373.6" y="609.2" width="1.1" height="1.3" fill="rgb(79,79,79)" opacity="0.65"/><rect x="366.7" y="599.7" width="1.0" height="3.4" fill="rgb(49,49,49)" opacity="0.86"/><rect x="354.8" y="603.1" width="0.5" height="2.5" fill="rgb(66,66,66)" opacity="0.43"/><rect x="355.4" y="592.3" width="1.1" height="2.8" fill="rgb(45,45,45)" opacity="0.87"/><rect x="379.4" y="604.3" width="0.6" height="3.3" fill="rgb(69,69,69)" opacity="0.42"/><rect x="409.3" y="596.2" width="0.7" height="1.4" fill="rgb(40,40,40)" opacity="0.44"/><rect x="357.2" y="601.7" width="0.8" height="3.2" fill="rgb(75,75,75)" opacity="0.88"/><rect x="368.5" y="594.4" width="1.1" height="2.1" fill="rgb(43,43,43)" opacity="0.75"/><rect x="367.5" y="604.8" width="0.9" height="2.1" fill="rgb(60,60,60)" opacity="0.58"/><rect x="430.0" y="603.0" width="1.1" height="2.9" fill="rgb(42,42,42)" opacity="0.59"/><rect x="391.4" y="599.8" width="1.1" height="1.2" fill="rgb(52,52,52)" opacity="0.77"/><rect x="430.2" y="597.3" width="1.2" height="2.5" fill="rgb(56,56,56)" opacity="0.77"/><rect x="411.5" y="601.7" width="1.1" height="1.7" fill="rgb(78,78,78)" opacity="0.86"/><rect x="406.6" y="599.8" width="0.7" height="2.2" fill="rgb(69,69,69)" opacity="0.88"/><rect x="384.5" y="598.7" width="0.7" height="2.1" fill="rgb(71,71,71)" opacity="0.47"/><rect x="394.3" y="608.2" width="0.7" height="2.7" fill="rgb(49,49,49)" opacity="0.70"/><rect x="379.2" y="599.5" width="0.7" height="1.9" fill="rgb(78,78,78)" opacity="0.44"/><rect x="367.6" y="599.1" width="0.5" height="1.1" fill="rgb(75,75,75)" opacity="0.67"/><rect x="364.3" y="596.0" width="0.8" height="1.3" fill="rgb(44,44,44)" opacity="0.53"/><rect x="357.5" y="602.9" width="1.0" height="2.1" fill="rgb(54,54,54)" opacity="0.47"/><rect x="391.1" y="601.7" width="1.1" height="1.6" fill="rgb(74,74,74)" opacity="0.82"/><rect x="409.3" y="604.6" width="0.7" height="2.4" fill="rgb(63,63,63)" opacity="0.53"/><rect x="373.2" y="604.3" width="0.8" height="1.5" fill="rgb(55,55,55)" opacity="0.48"/><rect x="428.9" y="595.9" width="0.8" height="3.5" fill="rgb(72,72,72)" opacity="0.66"/><rect x="407.9" y="597.3" width="0.6" height="2.2" fill="rgb(42,42,42)" opacity="0.45"/><rect x="392.3" y="602.2" width="1.1" height="1.1" fill="rgb(58,58,58)" opacity="0.52"/><rect x="354.5" y="592.0" width="0.9" height="3.1" fill="rgb(52,52,52)" opacity="0.87"/><rect x="383.2" y="601.9" width="0.7" height="2.9" fill="rgb(40,40,40)" opacity="0.45"/><rect x="403.2" y="595.7" width="0.9" height="1.5" fill="rgb(63,63,63)" opacity="0.57"/><rect x="353.9" y="600.1" width="1.0" height="3.3" fill="rgb(40,40,40)" opacity="0.81"/><rect x="386.5" y="599.0" width="0.8" height="2.6" fill="rgb(44,44,44)" opacity="0.50"/><rect x="420.9" y="597.6" width="0.6" height="2.0" fill="rgb(75,75,75)" opacity="0.48"/><rect x="397.6" y="598.6" width="1.0" height="2.0" fill="rgb(57,57,57)" opacity="0.60"/><rect x="375.3" y="595.5" width="0.7" height="2.4" fill="rgb(62,62,62)" opacity="0.61"/><rect x="351.6" y="608.3" width="1.0" height="3.0" fill="rgb(81,81,81)" opacity="0.50"/><rect x="414.9" y="599.1" width="1.1" height="2.1" fill="rgb(45,45,45)" opacity="0.60"/><rect x="428.7" y="599.4" width="0.8" height="1.4" fill="rgb(40,40,40)" opacity="0.43"/><rect x="362.7" y="600.4" width="0.9" height="3.3" fill="rgb(72,72,72)" opacity="0.49"/><rect x="381.0" y="595.2" width="0.6" height="1.4" fill="rgb(44,44,44)" opacity="0.45"/><rect x="393.8" y="602.5" width="0.6" height="1.3" fill="rgb(42,42,42)" opacity="0.89"/><rect x="393.1" y="589.2" width="0.5" height="3.3" fill="rgb(64,64,64)" opacity="0.44"/><rect x="413.5" y="595.8" width="0.9" height="3.1" fill="rgb(79,79,79)" opacity="0.60"/><rect x="425.5" y="591.2" width="1.1" height="1.5" fill="rgb(53,53,53)" opacity="0.42"/><rect x="433.7" y="601.1" width="0.6" height="3.4" fill="rgb(52,52,52)" opacity="0.42"/><rect x="400.2" y="602.1" width="1.0" height="1.1" fill="rgb(60,60,60)" opacity="0.46"/><rect x="403.5" y="593.7" width="0.7" height="2.1" fill="rgb(77,77,77)" opacity="0.52"/><rect x="384.7" y="597.3" width="0.8" height="2.3" fill="rgb(51,51,51)" opacity="0.41"/><rect x="405.2" y="596.1" width="1.0" height="2.9" fill="rgb(69,69,69)" opacity="0.82"/><rect x="422.3" y="599.2" width="0.8" height="1.2" fill="rgb(62,62,62)" opacity="0.62"/><rect x="358.2" y="594.5" width="0.5" height="2.6" fill="rgb(45,45,45)" opacity="0.86"/><rect x="378.0" y="600.7" width="1.0" height="1.2" fill="rgb(72,72,72)" opacity="0.85"/><rect x="408.2" y="599.2" width="0.5" height="2.5" fill="rgb(84,84,84)" opacity="0.81"/><rect x="367.3" y="598.1" width="1.2" height="2.2" fill="rgb(50,50,50)" opacity="0.74"/><rect x="414.3" y="600.4" width="0.9" height="1.6" fill="rgb(60,60,60)" opacity="0.85"/><rect x="374.5" y="606.4" width="1.1" height="1.4" fill="rgb(72,72,72)" opacity="0.88"/><rect x="392.8" y="594.4" width="0.7" height="1.9" fill="rgb(52,52,52)" opacity="0.49"/><rect x="364.4" y="596.0" width="1.2" height="2.7" fill="rgb(64,64,64)" opacity="0.48"/><rect x="420.0" y="602.7" width="0.9" height="1.9" fill="rgb(68,68,68)" opacity="0.68"/><rect x="401.7" y="602.3" width="1.1" height="1.3" fill="rgb(74,74,74)" opacity="0.71"/><rect x="385.2" y="599.9" width="1.2" height="2.4" fill="rgb(63,63,63)" opacity="0.57"/><rect x="357.3" y="596.0" width="0.7" height="2.5" fill="rgb(43,43,43)" opacity="0.55"/><rect x="396.0" y="595.2" width="1.1" height="3.3" fill="rgb(60,60,60)" opacity="0.77"/><rect x="416.6" y="608.7" width="0.7" height="1.7" fill="rgb(80,80,80)" opacity="0.62"/><rect x="395.7" y="600.7" width="0.7" height="2.6" fill="rgb(41,41,41)" opacity="0.43"/><rect x="400.6" y="597.7" width="0.7" height="2.3" fill="rgb(74,74,74)" opacity="0.51"/><rect x="402.1" y="596.7" width="0.9" height="2.2" fill="rgb(48,48,48)" opacity="0.41"/><rect x="421.5" y="597.6" width="1.0" height="2.1" fill="rgb(44,44,44)" opacity="0.72"/><rect x="427.7" y="599.8" width="0.7" height="1.0" fill="rgb(81,81,81)" opacity="0.81"/><rect x="429.6" y="595.0" width="0.9" height="2.4" fill="rgb(78,78,78)" opacity="0.87"/><rect x="415.4" y="599.1" width="0.5" height="2.3" fill="rgb(65,65,65)" opacity="0.49"/><rect x="364.2" y="607.6" width="1.1" height="1.3" fill="rgb(79,79,79)" opacity="0.68"/><rect x="433.9" y="600.7" width="0.9" height="2.3" fill="rgb(81,81,81)" opacity="0.61"/><rect x="404.7" y="601.1" width="0.9" height="1.2" fill="rgb(80,80,80)" opacity="0.42"/><rect x="429.3" y="600.3" width="0.5" height="3.1" fill="rgb(69,69,69)" opacity="0.44"/><rect x="408.5" y="592.8" width="0.6" height="3.5" fill="rgb(56,56,56)" opacity="0.52"/><rect x="353.5" y="595.6" width="1.0" height="3.1" fill="rgb(85,85,85)" opacity="0.43"/><rect x="406.7" y="604.7" width="1.0" height="2.7" fill="rgb(73,73,73)" opacity="0.89"/><rect x="376.4" y="606.6" width="0.6" height="2.3" fill="rgb(50,50,50)" opacity="0.53"/><rect x="371.1" y="595.3" width="1.0" height="3.4" fill="rgb(60,60,60)" opacity="0.50"/><rect x="384.7" y="595.9" width="1.1" height="3.3" fill="rgb(82,82,82)" opacity="0.82"/><rect x="397.8" y="596.7" width="0.8" height="2.3" fill="rgb(40,40,40)" opacity="0.83"/><rect x="389.0" y="598.2" width="0.7" height="1.5" fill="rgb(79,79,79)" opacity="0.69"/><rect x="400.4" y="593.9" width="0.6" height="1.1" fill="rgb(47,47,47)" opacity="0.45"/><rect x="432.9" y="597.8" width="0.5" height="1.1" fill="rgb(84,84,84)" opacity="0.72"/><rect x="353.8" y="600.8" width="0.5" height="1.1" fill="rgb(77,77,77)" opacity="0.78"/><rect x="367.8" y="603.7" width="1.0" height="3.2" fill="rgb(85,85,85)" opacity="0.87"/><rect x="359.6" y="597.6" width="0.6" height="1.3" fill="rgb(42,42,42)" opacity="0.87"/><rect x="431.3" y="599.0" width="1.0" height="2.6" fill="rgb(70,70,70)" opacity="0.45"/><rect x="358.7" y="597.3" width="1.0" height="1.5" fill="rgb(60,60,60)" opacity="0.57"/><rect x="373.3" y="593.5" width="0.5" height="2.9" fill="rgb(60,60,60)" opacity="0.78"/><rect x="403.7" y="606.4" width="0.8" height="1.7" fill="rgb(41,41,41)" opacity="0.79"/><rect x="352.8" y="597.2" width="0.8" height="1.1" fill="rgb(76,76,76)" opacity="0.51"/><rect x="426.9" y="598.8" width="0.6" height="3.0" fill="rgb(50,50,50)" opacity="0.62"/><rect x="396.7" y="597.4" width="0.5" height="1.9" fill="rgb(46,46,46)" opacity="0.65"/><rect x="421.1" y="605.5" width="0.6" height="2.2" fill="rgb(62,62,62)" opacity="0.88"/></g>
<rect x="362.1" y="558.2" width="8" height="8" fill="#8a8450" opacity="0.35"/>
<rect x="363.3" y="559.4" width="5.6" height="5.6" fill="#f2ea9a"/>
<rect x="364.5" y="560.6" width="3.2" height="3.2" fill="#fffbe0"/>
<rect x="432.5" y="559.8" width="8" height="8" fill="#8a8450" opacity="0.35"/>
<rect x="433.7" y="561.0" width="5.6" height="5.6" fill="#f2ea9a"/>
<rect x="434.9" y="562.2" width="3.2" height="3.2" fill="#fffbe0"/>
<rect x="362.6" y="586.3" width="8" height="8" fill="#8a8450" opacity="0.35"/>
<rect x="363.8" y="587.5" width="5.6" height="5.6" fill="#f2ea9a"/>
<rect x="365.0" y="588.7" width="3.2" height="3.2" fill="#fffbe0"/>
<rect x="397.5" y="587.5" width="8" height="8" fill="#8a8450" opacity="0.35"/>
<rect x="398.7" y="588.7" width="5.6" height="5.6" fill="#f2ea9a"/>
<rect x="399.9" y="589.9" width="3.2" height="3.2" fill="#fffbe0"/>
<rect x="432.5" y="588.6" width="8" height="8" fill="#8a8450" opacity="0.35"/>
<rect x="433.7" y="589.8" width="5.6" height="5.6" fill="#f2ea9a"/>
<rect x="434.9" y="591.0" width="3.2" height="3.2" fill="#fffbe0"/>
<path d="M 334.5,611.5 L 438.5,611.5 L 430,648 L 334.5,648 Z" fill="#1c1c1c"/>
<path d="M 335,613 L 438,613" stroke="#3e3e3e" stroke-width="3"/>
<path d="M 338,617 L 435,617 L 427.5,645 L 338,645 Z" fill="url(#hex)"/>
<rect x="337" y="617" width="4" height="28" fill="#1a0406" opacity="0.8"/>
<rect x="336" y="290.6" width="165.3" height="17.2" fill="#140608" opacity="0.85"/>
<rect x="339.6" y="293.6" width="161.7" height="12.2" rx="2.5" fill="url(#divg293)"/>
<linearGradient id="divg293" x1="0" y1="293.6" x2="0" y2="305.8" gradientUnits="userSpaceOnUse"><stop offset="0" stop-color="#606060"/><stop offset="0.4" stop-color="#505050"/><stop offset="1" stop-color="#3a3a3a"/></linearGradient>
<rect x="497.3" y="293.6" width="4" height="12.2" rx="2" fill="#222"/>
<rect x="336" y="495.6" width="162.8" height="16.6" fill="#140608" opacity="0.85"/>
<rect x="339.6" y="498.6" width="159.2" height="11.6" rx="2.5" fill="url(#divg498)"/>
<linearGradient id="divg498" x1="0" y1="498.6" x2="0" y2="510.20000000000005" gradientUnits="userSpaceOnUse"><stop offset="0" stop-color="#606060"/><stop offset="0.4" stop-color="#505050"/><stop offset="1" stop-color="#3a3a3a"/></linearGradient>
<rect x="494.8" y="498.6" width="4" height="11.6" rx="2" fill="#222"/>
<path d="M 316,702 C 318,714 326,721 342,721 L 445,721 C 470,720 492,710 508,696" fill="none" stroke="#262626" stroke-width="1.5"/>
<path d="M 455,711.5 C 465,707 476,700 482.5,693.5" fill="none" stroke="#474747" stroke-width="1.6"/>
<path d="M 432,726 C 460,724 490,715 512,700" fill="none" stroke="#2a2a2a" stroke-width="1.2"/>
<path d="M 536,199 L 559,197.5 L 559,245 L 548,256 L 540,259 Z" fill="#22101a"/>
<path d="M 537.5,203 L 544,202.5 L 546.5,254 L 541.5,256 Z" fill="#760812"/>
<path d="M 538.5,204 L 540,204 L 543,255 L 541.8,255.5 Z" fill="#a01020" opacity="0.7"/>
<path d="M 533.5,200 L 538,259" stroke="#3a3a3a" stroke-width="1.5"/>
<g stroke="#f00008" stroke-width="2.5" stroke-dasharray="8.6 4.3" fill="none">
<line x1="84" y1="199.5" x2="360" y2="199.5"/>
<line x1="84" y1="327" x2="364" y2="327"/>
<line x1="121.5" y1="566.3" x2="392" y2="566.3"/>
<line x1="121.5" y1="633.2" x2="380" y2="633.2"/>
<line x1="545" y1="422" x2="708" y2="422"/>
<line x1="538.2" y1="501.9" x2="708" y2="501.9"/>
</g>
<g fill="#fff" stroke="#f00008" stroke-width="2.6">
<circle cx="366" cy="199.2" r="5.7"/>
<circle cx="370.5" cy="326.4" r="5.7"/>
<circle cx="398" cy="565.8" r="5.7"/>
<circle cx="386.2" cy="632.7" r="5.7"/>
<circle cx="542.2" cy="421.5" r="5.7"/>
<circle cx="539.8" cy="501.9" r="5.7"/>
</g>
<text x="84.4" y="153.7" textLength="65.1" lengthAdjust="spacingAndGlyphs">BRAKE/</text>
<text x="84.4" y="174.2" textLength="116.3" lengthAdjust="spacingAndGlyphs">SEQUENTIAL</text>
<text x="84.4" y="193.8" textLength="122.6" lengthAdjust="spacingAndGlyphs">TURN SIGNAL</text>
<text x="85.1" y="259.2" textLength="153.3" lengthAdjust="spacingAndGlyphs">RUNNING LIGHT/</text>
<text x="84.4" y="279.6" textLength="65.1" lengthAdjust="spacingAndGlyphs">BRAKE/</text>
<text x="84.4" y="299.6" textLength="116.3" lengthAdjust="spacingAndGlyphs">SEQUENTIAL</text>
<text x="84.4" y="319.3" textLength="122.6" lengthAdjust="spacingAndGlyphs">TURN SIGNAL</text>
<text x="121.9" y="560.6" textLength="79.7" lengthAdjust="spacingAndGlyphs">REVERSE</text>
<text x="121.9" y="625.6" textLength="104.9" lengthAdjust="spacingAndGlyphs">REFLECTOR</text>
<text x="708.0" y="414.7" text-anchor="end" textLength="117.9" lengthAdjust="spacingAndGlyphs">SMOKE LENS</text>
<text x="708.0" y="474.5" text-anchor="end" textLength="62.2" lengthAdjust="spacingAndGlyphs">BLACK</text>
<text x="708.0" y="494.9" text-anchor="end" textLength="89.4" lengthAdjust="spacingAndGlyphs">HOUSING</text>
</svg>
</body></html>
